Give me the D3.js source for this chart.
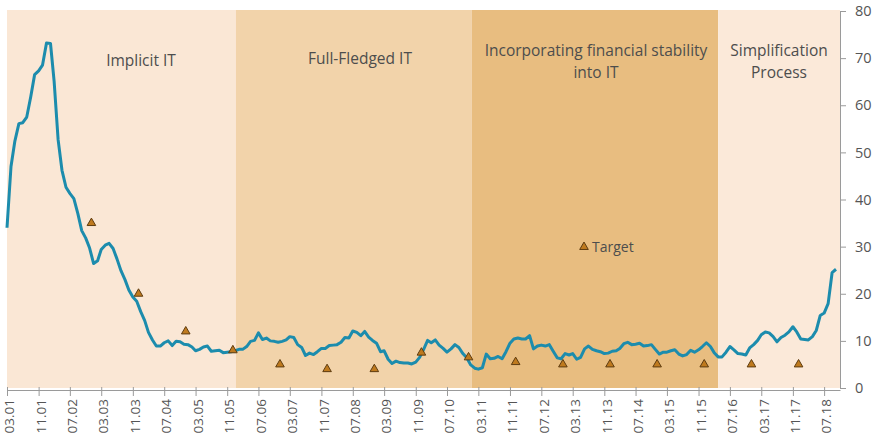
<!DOCTYPE html>
<html>
<head>
<meta charset="utf-8">
<script src="https://cdn.jsdelivr.net/npm/d3@7"></script>
<style>
  body { margin: 0; background: #fff; }
  text { font-family: "Open Sans", sans-serif; fill: #555; }
</style>
</head>
<body>
<script>
// monthly inflation, first month 03.01
var startMonth = '2001-03';
var inflation = [
  34, 47, 52.4, 56.1, 56.3, 57.5, 61.8, 66.5, 67.3, 68.5,
  73.2, 73.1, 65.1, 52.7, 46.2, 42.6, 41.3, 40.2, 37.0, 33.4, 31.8, 29.7,
  26.4, 27.0, 29.4, 30.3, 30.7, 29.6, 27.4, 24.9, 23.0, 20.8, 19.3, 18.4,
  16.2, 14.3, 11.8, 10.2, 8.9, 8.9, 9.6, 10.0, 9.0, 9.9, 9.8, 9.3,
  9.2, 8.7, 7.9, 8.2, 8.7, 8.9, 7.8, 7.9, 8.0, 7.5, 7.6, 7.7,
  7.9, 8.2, 8.2, 8.8, 9.9, 10.1, 11.7, 10.3, 10.6, 10.0, 9.9, 9.7,
  9.9, 10.2, 10.9, 10.7, 9.2, 8.6, 6.9, 7.4, 7.1, 7.7, 8.4, 8.4,
  9.0, 9.1, 9.2, 9.7, 10.7, 10.6, 12.1, 11.8, 11.1, 12.0, 10.8, 10.1,
  9.5, 7.7, 7.9, 6.1, 5.2, 5.7, 5.4, 5.3, 5.3, 5.1, 5.5, 6.5,
  8.2, 10.1, 9.6, 10.2, 9.1, 8.4, 7.6, 8.3, 9.2, 8.6, 7.3, 6.4,
  4.9, 4.2, 4.0, 4.3, 7.2, 6.2, 6.3, 6.7, 6.2, 7.7, 9.5, 10.4,
  10.6, 10.4, 10.4, 11.1, 8.3, 8.9, 9.1, 8.9, 9.2, 7.8, 6.4, 6.2,
  7.3, 7.0, 7.3, 6.1, 6.5, 8.3, 8.9, 8.2, 7.9, 7.7, 7.3, 7.4,
  7.8, 7.9, 8.4, 9.4, 9.7, 9.2, 9.3, 9.5, 8.9, 9.0, 9.2, 8.2,
  7.2, 7.6, 7.6, 7.9, 8.1, 7.2, 6.8, 7.1, 8.0, 7.6, 8.1, 8.8,
  9.6, 8.8, 7.5, 6.6, 6.6, 7.6, 8.8, 8.1, 7.3, 7.2, 7.0, 8.5,
  9.2, 10.1, 11.3, 11.9, 11.7, 10.9, 9.8, 10.7, 11.2, 11.9, 13.0, 11.9,
  10.4, 10.3, 10.2, 10.9, 12.2, 15.4, 15.9, 17.9, 24.5, 25.2
];

// end-of-year targets
var targetYears  = [2002, 2003, 2004, 2005, 2006, 2007, 2008, 2009, 2010, 2011, 2012, 2013, 2014, 2015, 2016, 2017];
var targetValues = [35, 20, 12, 8, 5, 4, 4, 7.5, 6.5, 5.5, 5, 5, 5, 5, 5, 5];

// policy phases
var phaseNames  = [['Implicit IT'], ['Full-Fledged IT'], ['Incorporating financial stability', 'into IT'], ['Simplification', 'Process']];
var phaseStarts = ['2001-03-01', '2006-01-08', '2011-01-08', '2016-04-01'];
var phaseEnds   = ['2006-01-08', '2011-01-08', '2016-04-01', '2018-11-01'];
var phaseColors = ['#fae7d5', '#f2d3aa', '#e8bd80', '#fbe9d9'];

var tickLabels = ['03.01', '11.01', '07.02', '03.03', '11.03', '07.04', '03.05', '11.05', '07.06',
  '03.07', '11.07', '07.08', '03.09', '11.09', '07.10', '03.11', '11.11', '07.12', '03.13',
  '11.13', '07.14', '03.15', '11.15', '07.16', '03.17', '11.17', '07.18'];
var yTicks = [0, 10, 20, 30, 40, 50, 60, 70, 80];

var
  width  = 876,
  height = 440,
  parseDay   = d3.utcParse('%Y-%m-%d'),
  parseMonth = d3.utcParse('%Y-%m'),
  parseTick  = d3.utcParse('%m.%y'),
  x = d3.scaleUtc()
        .domain([parseDay('2001-03-01'), parseDay('2018-11-01')])
        .range([7, 840]),
  y = d3.scaleLinear()
        .domain([0, 80])
        .range([388, 11]),
  svg = d3.select('body')
        .append('svg')
        .attr('width', width)
        .attr('height', height);

var start = parseMonth(startMonth);
var series = inflation.map(function (v, i) {
  return { date: d3.utcMonth.offset(start, i), value: v };
});

// phase bands
var phases = phaseNames.map(function (n, i) {
  return { lines: n, from: parseDay(phaseStarts[i]), to: parseDay(phaseEnds[i]), color: phaseColors[i] };
});

svg.selectAll('.band')
  .data(phases)
  .enter()
  .append('rect')
  .attr('class', 'band')
  .attr('x', function (d) { return x(d.from); })
  .attr('width', function (d) { return x(d.to) - x(d.from); })
  .attr('y', y(80) - 1)
  .attr('height', y(0) - y(80) + 1)
  .style('fill', function (d) { return d.color; });

// label centres, the first one sits right of its band centre
var labelX = [141, 360, 596, 779];
var labelY = [[61], [59], [51, 73], [51, 73]];
phases.forEach(function (p, i) {
  var t = svg.append('text')
    .attr('text-anchor', 'middle')
    .attr('font-size', 15.5)
    .style('fill', '#4d4d4d');
  p.lines.forEach(function (line, j) {
    t.append('tspan')
      .attr('x', labelX[i])
      .attr('y', labelY[i][j])
      .attr('dy', '0.35em')
      .text(line);
  });
});

// x axis
var xAxis = svg.append('g')
  .attr('transform', 'translate(0,' + (y(0) + 2) + ')')
  .call(d3.axisBottom(x)
    .tickValues(tickLabels.map(function (t) { return parseTick(t); }))
    .tickFormat(d3.utcFormat('%m.%y'))
    .tickSize(6)
    .tickSizeOuter(0));
xAxis.select('.domain').attr('stroke', '#9a9a9a');
xAxis.selectAll('.tick line').attr('stroke', '#9a9a9a').attr('y1', -3);
xAxis.selectAll('.tick text')
  .attr('font-size', 13.5)
  .attr('font-family', '"Open Sans", sans-serif')
  .style('fill', '#555')
  .attr('text-anchor', 'end')
  .attr('transform', 'rotate(-90)')
  .attr('x', -9)
  .attr('y', 2)
  .attr('dy', '0.35em');

// right y axis
var yAxis = svg.append('g')
  .attr('transform', 'translate(' + x.range()[1] + ',0)')
  .call(d3.axisRight(y)
    .tickValues(yTicks)
    .tickSize(6)
    .tickSizeOuter(0)
    .tickPadding(9));
yAxis.select('.domain').attr('stroke', '#9a9a9a');
yAxis.selectAll('.tick line').attr('stroke', '#9a9a9a');
yAxis.selectAll('.tick text')
  .attr('font-size', 14.5)
  .attr('font-family', '"Open Sans", sans-serif')
  .style('fill', '#555');

// inflation line
var line = d3.line()
  .x(function (d) { return x(d.date); })
  .y(function (d) { return y(d.value); });

svg.append('path')
  .datum(series)
  .attr('d', line)
  .attr('fill', 'none')
  .attr('stroke', '#1c8cad')
  .attr('stroke-width', 3)
  .attr('stroke-linejoin', 'round');

// targets
var tri = d3.symbol().type(d3.symbolTriangle).size(32);
svg.selectAll('.target')
  .data(targetYears.map(function (yr, i) { return { date: Date.UTC(yr, 11, 15), value: targetValues[i] }; }))
  .enter()
  .append('path')
  .attr('class', 'target')
  .attr('d', tri)
  .attr('transform', function (d) { return 'translate(' + x(d.date) + ',' + y(d.value) + ')'; })
  .attr('fill', '#bf7a1e')
  .attr('stroke', '#5e3c10')
  .attr('stroke-width', 1);

// legend
svg.append('path')
  .attr('d', tri)
  .attr('transform', 'translate(584,247)')
  .attr('fill', '#bf7a1e')
  .attr('stroke', '#5e3c10')
  .attr('stroke-width', 1);
svg.append('text')
  .attr('x', 592)
  .attr('y', 247)
  .attr('dy', '0.35em')
  .attr('font-size', 14)
  .style('fill', '#4d4d4d')
  .text('Target');
</script>
</body>
</html>
